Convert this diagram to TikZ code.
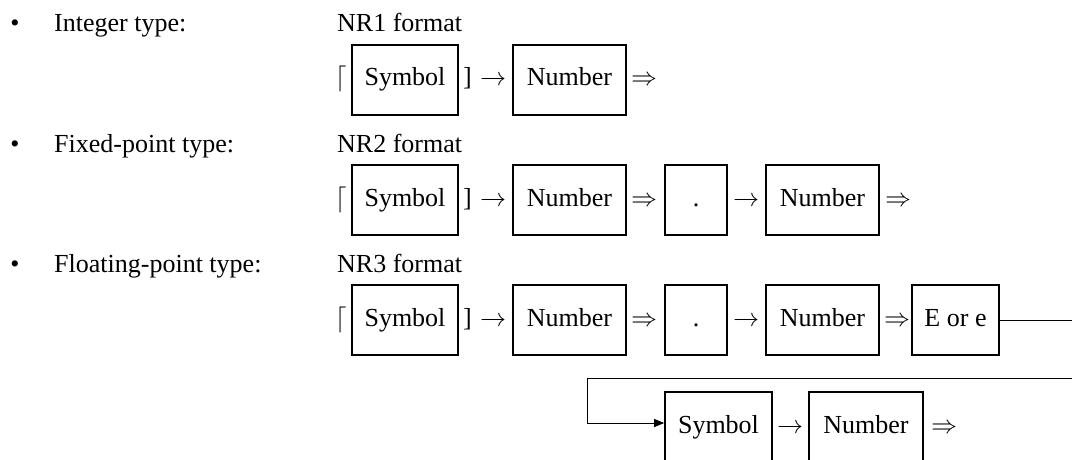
\documentclass[tikz,border=0pt]{standalone}
\usepackage{fontspec}
\usepackage{unicode-math}
\setmainfont{Liberation Serif}
\setmathfont{Latin Modern Math}
\usetikzlibrary{arrows.meta}
\begin{document}
\begin{tikzpicture}[x=1pt,y=-1pt,
  every node/.style={font=\fontsize{26}{30}\selectfont, inner sep=0pt},
  box/.style={draw, line width=1.6pt, text height=18pt, text depth=6pt, inner ysep=23pt, inner xsep=0pt},
  sym/.style={anchor=base},
  lbl/.style={anchor=base west},
  conn/.style={line width=1pt}]
\useasboundingbox (0,0) rectangle (1072,460);
\begin{scope}
\clip (0,0) rectangle (1072,460);
% left labels
\node[sym] (b1) at (15,32) {•};
\node[lbl] (t1) at (54,32) {Integer type:};
\node[sym] (b2) at (15,152) {•};
\node[lbl] (t2) at (54,152) {Fixed-point type:};
\node[sym] (b3) at (15,272) {•};
\node[lbl] (t3) at (54,272) {Floating-point type:};
\node[lbl] (f1) at (337,32) {NR1 format};
\node[lbl] (f2) at (337,152) {NR2 format};
\node[lbl] (f3) at (337,272) {NR3 format};
% row 1
\node[box, minimum width=106pt] (s1) at (405,80) {Symbol};
\node[box, minimum width=113pt] (n1) at (569.5,80) {Number};
\node[sym] (lc1) at (341,86) {$\lceil$};
\node[sym] (rb1) at (467.5,86) {]};
\node[sym] (ar1) at (493,86) {$\rightarrow$};
\node[sym] (dr1) at (644,86) {$\Rightarrow$};
% row 2
\node[box, minimum width=106pt] (s2) at (405,200) {Symbol};
\node[box, minimum width=113pt] (n2) at (569.5,200) {Number};
\node[box, minimum width=62pt] (d2) at (696,200) {.};
\node[box, minimum width=113pt] (m2) at (822.5,200) {Number};
\node[sym] (lc2) at (341,206) {$\lceil$};
\node[sym] (rb2) at (467.5,206) {]};
\node[sym] (ar2) at (493,206) {$\rightarrow$};
\node[sym] (dr2) at (644,206) {$\Rightarrow$};
\node[sym] (ar2b) at (746.5,206) {$\rightarrow$};
\node[sym] (dr2b) at (898.5,206) {$\Rightarrow$};
% row 3
\node[box, minimum width=106pt] (s3) at (405,320) {Symbol};
\node[box, minimum width=113pt] (n3) at (569.5,320) {Number};
\node[box, minimum width=62pt] (d3) at (696,320) {.};
\node[box, minimum width=113pt] (m3) at (822.5,320) {Number};
\node[box, minimum width=87pt] (e3) at (955.5,320) {E or e};
\node[sym] (lc3) at (341,326) {$\lceil$};
\node[sym] (rb3) at (467.5,326) {]};
\node[sym] (ar3) at (493,326) {$\rightarrow$};
\node[sym] (dr3) at (644,326) {$\Rightarrow$};
\node[sym] (ar3b) at (746.5,326) {$\rightarrow$};
\node[sym] (dr3b) at (897,326) {$\Rightarrow$};
% row 4
\node[box, minimum width=107pt] (s4) at (718.5,427) {Symbol};
\node[box, minimum width=114pt] (n4) at (866,427) {Number};
\node[sym] (ar4) at (790.5,433) {$\rightarrow$};
\node[sym] (dr4) at (944,433) {$\Rightarrow$};
% wrap-around connector
\coordinate (c1) at (1090,320);
\coordinate (c2) at (1090,378);
\coordinate (c3) at (587,378);
\coordinate (c4) at (587,423);
\draw[conn, -{Triangle[length=10pt,width=8pt]}] (e3.east) -- (c1) -- (c2) -- (c3) -- (c4) -- (s4.west |- c4);
\end{scope}
\end{tikzpicture}
\end{document}
